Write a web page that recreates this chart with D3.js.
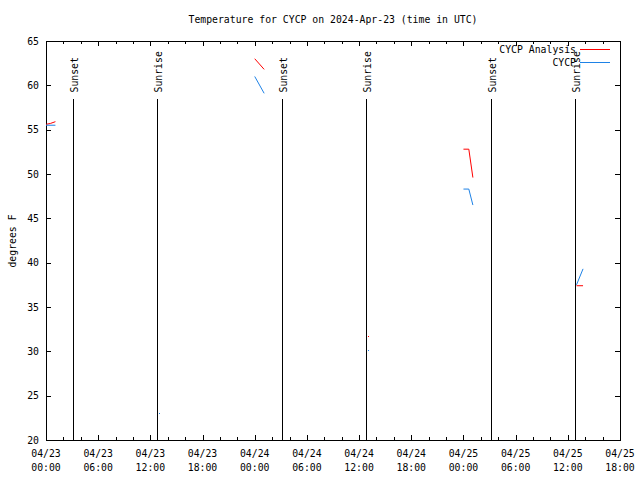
<!DOCTYPE html>
<html>
<head>
<meta charset="utf-8">
<script src="https://cdn.jsdelivr.net/npm/d3@7/dist/d3.min.js"></script>
<style>
  html, body { margin: 0; padding: 0; background: #fff; }
  svg { display: block; }
  text { font-family: "DejaVu Sans Mono", "Liberation Mono", monospace; font-size: 9.8px; fill: #000; }
</style>
</head>
<body>
<svg id="chart" width="640" height="480"></svg>
<script>
// ---------------- data ----------------
const titleText = "Temperature for CYCP on 2024-Apr-23 (time in UTC)";
const yLabelText = "degrees F";
const seriesNames = ["CYCP Analysis", "CYCP"];
const seriesColors = ["#ff0000", "#1e82e6"];

// Analysis (null value breaks the line)
const analysisTimes = ["2024-04-23T00:00", "2024-04-23T00:30", "2024-04-23T01:05", null,
  "2024-04-23T13:00", null,
  "2024-04-24T00:00", "2024-04-24T01:05", null,
  "2024-04-24T13:00", null,
  "2024-04-25T00:00", "2024-04-25T00:37", "2024-04-25T01:05", null,
  "2024-04-25T13:00", "2024-04-25T13:45"];
const analysisTemps = [55.6, 55.7, 55.9, null,
  23.1, null,
  63.0, 61.8, null,
  31.7, null,
  52.8, 52.8, 49.6, null,
  37.4, 37.4];

// Observations
const obsTimes = ["2024-04-23T00:00", "2024-04-23T01:05", null,
  "2024-04-23T13:00", null,
  "2024-04-24T00:00", "2024-04-24T01:05", null,
  "2024-04-24T13:00", null,
  "2024-04-25T00:00", "2024-04-25T00:37", "2024-04-25T01:05", null,
  "2024-04-25T13:00", "2024-04-25T13:45"];
const obsTemps = [55.5, 55.5, null,
  23.0, null,
  61.0, 59.1, null,
  30.2, null,
  48.3, 48.3, 46.5, null,
  37.5, 39.3];

const sunEventTimes = ["2024-04-23T03:04", "2024-04-23T12:48", "2024-04-24T03:07",
  "2024-04-24T12:50", "2024-04-25T03:10", "2024-04-25T12:52"];
const sunEventLabels = ["Sunset", "Sunrise", "Sunset", "Sunrise", "Sunset", "Sunrise"];

const xDomain = ["2024-04-23T00:00", "2024-04-25T18:00"];
const yTicks = [20, 25, 30, 35, 40, 45, 50, 55, 60, 65];

// ---------------- drawing ----------------
const parse = d3.utcParse("%Y-%m-%dT%H:%M");
const svg = d3.select("#chart");
const L = 46, R = 620, T = 41, B = 440;

const x = d3.scaleUtc().domain(xDomain.map(parse)).range([L, R]);
const y = d3.scaleLinear().domain([20, 65]).range([B, T]);

const majorTicks = d3.utcHour.every(6).range(x.domain()[0], d3.utcMinute.offset(x.domain()[1], 1));
const minorTicks = d3.utcHour.every(2).range(x.domain()[0], d3.utcMinute.offset(x.domain()[1], 1));

// axes (frame)
const gAx = svg.append("g").attr("shape-rendering", "crispEdges");
function styleAxis(g) {
  g.selectAll("path, line").attr("stroke", "#000");
  g.selectAll("text").remove();
}
gAx.append("g").attr("transform", `translate(0,${B})`)
  .call(d3.axisBottom(x).tickValues(minorTicks).tickSizeInner(-3).tickSizeOuter(0).tickFormat(""))
  .call(styleAxis);
gAx.append("g").attr("transform", `translate(0,${B})`)
  .call(d3.axisBottom(x).tickValues(majorTicks).tickSizeInner(-5).tickSizeOuter(0).tickFormat(""))
  .call(styleAxis);
gAx.append("g").attr("transform", `translate(0,${T})`)
  .call(d3.axisTop(x).tickValues(minorTicks).tickSizeInner(-3).tickSizeOuter(0).tickFormat(""))
  .call(styleAxis);
gAx.append("g").attr("transform", `translate(0,${T})`)
  .call(d3.axisTop(x).tickValues(majorTicks).tickSizeInner(-5).tickSizeOuter(0).tickFormat(""))
  .call(styleAxis);
gAx.append("g").attr("transform", `translate(${L},0)`)
  .call(d3.axisLeft(y).tickValues(yTicks).tickSizeInner(-5).tickSizeOuter(0).tickFormat(""))
  .call(styleAxis);
gAx.append("g").attr("transform", `translate(${R},0)`)
  .call(d3.axisRight(y).tickValues(yTicks).tickSizeInner(-5).tickSizeOuter(0).tickFormat(""))
  .call(styleAxis);

// y tick labels
svg.append("g").selectAll("text").data(yTicks).join("text")
  .attr("x", L - 7).attr("y", d => y(d) + 3.5)
  .attr("text-anchor", "end").text(d => d);

// x tick labels
const fmtDate = d3.utcFormat("%m/%d"), fmtTime = d3.utcFormat("%H:%M");
const xl = svg.append("g").selectAll("text").data(majorTicks).join("text")
  .attr("text-anchor", "middle");
xl.append("tspan").attr("x", d => x(d)).attr("y", 456.5).text(d => fmtDate(d));
xl.append("tspan").attr("x", d => x(d)).attr("y", 470.5).text(d => fmtTime(d));

// title and y label
svg.append("text").attr("x", 333).attr("y", 23).attr("text-anchor", "middle").text(titleText);
svg.append("text").attr("transform", "translate(16,241) rotate(-90)")
  .attr("text-anchor", "middle").text(yLabelText);

// sunrise / sunset lines
const sun = svg.append("g");
sunEventTimes.forEach((t, i) => {
  const xx = Math.round(x(parse(t))) + 0.5;
  sun.append("line").attr("x1", xx).attr("x2", xx).attr("y1", 99).attr("y2", B)
    .attr("stroke", "#000").attr("shape-rendering", "crispEdges");
  sun.append("text").attr("transform", `translate(${xx + 4},92.5) rotate(-90)`)
    .attr("text-anchor", "start").text(sunEventLabels[i]);
});

// data series
function drawSeries(times, temps, color) {
  const pts = times.map((t, i) => t === null ? null : { t: parse(t), v: temps[i] });
  const line = d3.line().defined(d => d !== null).x(d => x(d.t)).y(d => y(d.v));
  svg.append("path").datum(pts).attr("d", line).attr("fill", "none")
    .attr("stroke", color).attr("stroke-width", 1);
  // isolated points
  pts.forEach((p, i) => {
    if (p && !pts[i - 1] && !pts[i + 1]) {
      svg.append("rect").attr("x", Math.round(x(p.t))).attr("y", Math.round(y(p.v)))
        .attr("width", 1).attr("height", 1).attr("fill", color);
    }
  });
}
drawSeries(analysisTimes, analysisTemps, seriesColors[0]);
drawSeries(obsTimes, obsTemps, seriesColors[1]);

// legend
const legY = [49.5, 62.5];
seriesNames.forEach((n, i) => {
  svg.append("text").attr("x", 576).attr("y", legY[i] + 3.5).attr("text-anchor", "end").text(n);
  svg.append("line").attr("x1", 580).attr("x2", 610).attr("y1", legY[i]).attr("y2", legY[i])
    .attr("stroke", seriesColors[i]).attr("shape-rendering", "crispEdges");
});
</script>
</body>
</html>
